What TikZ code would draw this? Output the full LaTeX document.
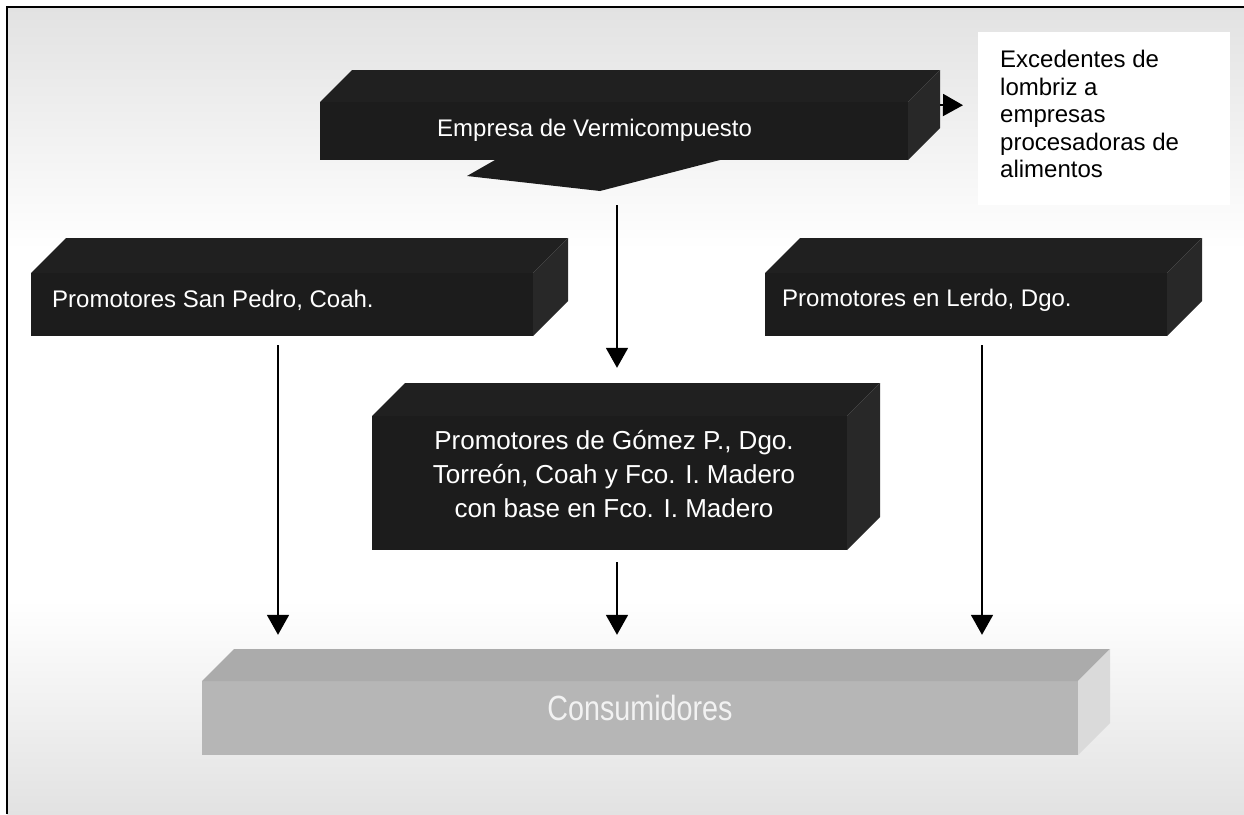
\documentclass[tikz,border=0pt]{standalone}
\usepackage{fontspec}
\setmainfont{Liberation Sans}
\newfontfamily\narrowfont[FakeStretch=0.82]{Liberation Sans}
\usetikzlibrary{arrows.meta,calc}
\definecolor{blk}{HTML}{1C1C1C}
\definecolor{blktop}{HTML}{202020}
\definecolor{blkside}{HTML}{282828}
\definecolor{cofront}{HTML}{B6B6B6}
\definecolor{cotop}{HTML}{ABABAB}
\definecolor{coside}{HTML}{DADADA}
\definecolor{bandgray}{HTML}{E2E2E2}
% 3D block: #1 x0, #2 y0, #3 x1, #4 y1, #5 depth, #6 front, #7 top, #8 side
\newcommand\threedblock[8]{%
  \fill[#6] (#1,#2+#5) -- (#3-#5,#2+#5) -- (#3-#5,#4) -- (#1,#4) -- cycle;
  \fill[#7] (#1,#2+#5) -- (#1+#5,#2) -- (#3,#2) -- (#3-#5,#2+#5) -- cycle;
  \fill[#8] (#3-#5,#2+#5) -- (#3,#2) -- (#3,#4-#5) -- (#3-#5,#4) -- cycle;
}
\tikzset{
  blockbox/.style={draw=none,inner sep=0pt,rectangle},
  wtext/.style={text=white,inner sep=0pt,font=\fontsize{24}{27.6}\selectfont},
  arr/.style={line width=1.8pt,-{Triangle[length=20pt,width=22pt]}},
}
\begin{document}
\begin{tikzpicture}[x=1pt,y=-1pt]
\useasboundingbox (0,0) rectangle (1244,814);
% background
\fill[white] (0,0) rectangle (1244,814);
\shade[top color=bandgray,bottom color=white] (7,7) rectangle (1244,250);
\shade[top color=white,bottom color=bandgray] (7,600) rectangle (1244,814);
\fill[white] (978,32) rectangle (1230,205);
\draw[line width=2pt] (7,814) -- (7,7) -- (1244,7);

% top block with pointer
\fill[blk] (495,160) -- (467,176) -- (600,191) -- (720,160) -- cycle;
\threedblock{320}{70}{940}{160}{32}{blk}{blktop}{blkside}
\node[blockbox,minimum width=620pt,minimum height=90pt] (E) at (630,115) {};
\node[wtext,anchor=west] (Et) at (437,130) {Empresa de Vermicompuesto};

% left block
\threedblock{31}{238}{568}{336}{35}{blk}{blktop}{blkside}
\node[blockbox,minimum width=537pt,minimum height=98pt] (SP) at (299.5,287) {};
\node[wtext,anchor=west] (SPt) at (52,300) {Promotores San Pedro, Coah.};

% right block
\threedblock{765}{238}{1202}{336}{35}{blk}{blktop}{blkside}
\node[blockbox,minimum width=437pt,minimum height=98pt] (LD) at (983.5,287) {};
\node[wtext,anchor=west] (LDt) at (782,300) {Promotores en Lerdo, Dgo.};

% center block
\threedblock{372}{383}{880}{550}{33}{blk}{blktop}{blkside}
\node[blockbox,minimum width=508pt,minimum height=167pt] (GM) at (626,466.5) {};
\node[wtext,align=center,font=\fontsize{26}{34}\selectfont] (GMt) at (614,474)
  {Promotores de Gómez P., Dgo.\\Torreón, Coah y Fco. I. Madero\\con base en Fco. I. Madero};

% consumidores
\threedblock{202}{649}{1110}{755}{32}{cofront}{cotop}{coside}
\node[blockbox,minimum width=908pt,minimum height=106pt] (CO) at (656,702) {};
\node[text=white!90!gray,inner sep=0pt,font=\narrowfont\fontsize{35}{40}\selectfont] (COt) at (640,708) {Consumidores};

% side text
\node[inner sep=0pt,anchor=north west,align=left,font=\fontsize{24}{27.6}\selectfont] (EX) at (1000,50)
  {Excedentes de\\lombriz a\\empresas\\procesadoras de\\alimentos};

% connectors
\draw[arr] ($(E.south)+(-13,45)$) -- ($(GM.north)+(-9,-15)$);
\draw[arr] ($(SP.south)+(-21.5,9)$) -- ($(CO.north)+(-378,-14)$);
\draw[arr] ($(LD.south)+(-1.5,9)$) -- ($(CO.north)+(326,-14)$);
\draw[arr] ($(GM.south)+(-9,12)$) -- ($(CO.north)+(-39,-14)$);
\draw[arr] ($(E.east)+(0,-10)$) -- ($(EX.west)+(-37,-9)$);
\end{tikzpicture}
\end{document}
